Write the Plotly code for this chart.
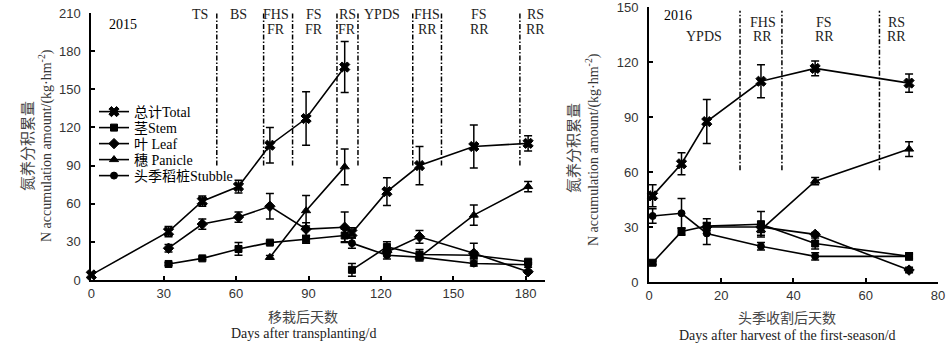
import plotly.graph_objects as go

# ---------------- data: 2015 (days after transplanting) ----------------
days15 = [0, 32, 46, 61, 74, 89, 105, None, 108, 122.5, 136, 158.5, 181]
total15 = [4, 38, 62, 73.5, 106, 127, 167.5, None, 37, 69.5, 90, 105, 107.5]
total15_err = [2, 4, 4, 5, 14, 21, 20, 0, 4, 11, 15, 17, 6]
stem15 = [None, 12.6, 17, 24.4, 29.4, 32, 35, None, 8, 26, 20, 19.5, 14.4]
stem15_err = [0, 1, 1, 5, 1, 3, 5, 0, 5, 4, 4, 3, 1.5]
leaf15 = [None, 25, 44, 49.5, 58, 40, 41.5, None, None, 22, 34, 21, 6.5]
leaf15_err = [0, 3, 4, 4, 10, 5, 12, 0, 0, 3, 5, 8, 1]
panicle15 = [None, None, None, None, 17.8, 54.5, 89, None, None, None, 18, 51, 73.5]
panicle15_err = [0, 0, 0, 0, 1.5, 12, 14, 0, 0, 0, 2, 8, 4]
stubble15 = [None, None, None, None, None, None, None, None, 29, 19.5, 18, 13, 12]
stubble15_err = [0, 0, 0, 0, 0, 0, 0, 0, 4, 3, 3, 2, 2]

# ---------------- data: 2016 (days after harvest of first season) -------
days16 = [1, 9, 16, 31, 46, 72]
total16 = [47, 64.5, 87.5, 109.5, 116.5, 108.5]
total16_err = [6, 6, 12, 9, 4, 5]
stem16 = [10.5, 27.5, 30.5, 31.5, 21, 14]
stem16_err = [1, 2, 4, 7, 3, 2]
leaf16 = [None, None, 30, 30, 26, 6.5]
leaf16_err = [0, 0, 2, 3, 1, 1.5]
panicle16 = [None, None, None, 28.5, 55, 72.5]
panicle16_err = [0, 0, 0, 3, 2, 4]
stubble16 = [36, 37.5, 26.5, 19.5, 14, 14]
stubble16_err = [4, 8, 6, 2, 2, 1]

# stage boundaries
bounds15 = [52, 71.4, 83.4, 101.8, 110.5, 133.2, 145.1, 177.6]
bounds16 = [25.2, 36.8, 63.8]
stage15_x = [45, 61, 76.7, 92.4, 106, 120.6, 139.3, 160.8, 184]
stage15_l1 = ["TS", "BS", "FHS", "FS", "RS", "YPDS", "FHS", "FS", "RS"]
stage15_l2 = ["", "", "FR", "FR", "FR", "", "RR", "RR", "RR"]
stage16_x = [15.2, 31.5, 48.5, 68.5]
stage16_l1 = ["", "FHS", "FS", "RS"]
stage16_l2 = ["YPDS", "RR", "RR", "RR"]

names = ["总计Total", "茎Stem", "叶 Leaf", "穗 Panicle", "头季稻桩Stubble"]
symbols = ["x", "square", "diamond", "triangle-up", "circle"]
sizes = [9, 7, 8, 8, 7]
legend_ids = ["legend", "legend2", "legend3", "legend4", "legend5"]
legend_rows_px = [112, 128, 144, 160, 176]

W, H = 947, 350
SERIF = "Liberation Serif, Noto Sans CJK SC, serif"
SANS = "Liberation Sans, Arial, sans-serif"
DASH = "5px,2px,1.5px,2px"

fig = go.Figure()

s15 = [(total15, total15_err), (stem15, stem15_err), (leaf15, leaf15_err),
       (panicle15, panicle15_err), (stubble15, stubble15_err)]
s16 = [(total16, total16_err), (stem16, stem16_err), (leaf16, leaf16_err),
       (panicle16, panicle16_err), (stubble16, stubble16_err)]

for i, (vals, err) in enumerate(s15):
    fig.add_trace(go.Scatter(
        x=days15, y=vals, mode="lines+markers", name=names[i], legend=legend_ids[i],
        line=dict(color="black", width=1.6),
        marker=dict(symbol=symbols[i], size=sizes[i], color="black",
                    line=dict(color="black", width=1)),
        error_y=dict(type="data", array=err, color="black", thickness=1.5, width=4),
        cliponaxis=False, connectgaps=False, xaxis="x", yaxis="y"))

for i, (vals, err) in enumerate(s16):
    fig.add_trace(go.Scatter(
        x=days16, y=vals, mode="lines+markers", name=names[i], showlegend=False,
        line=dict(color="black", width=1.6),
        marker=dict(symbol=symbols[i], size=sizes[i], color="black",
                    line=dict(color="black", width=1)),
        error_y=dict(type="data", array=err, color="black", thickness=1.5, width=4),
        cliponaxis=False, connectgaps=False, xaxis="x2", yaxis="y2"))

shapes = []
for b in bounds15:
    shapes.append(dict(type="line", xref="x", yref="y", x0=b, x1=b, y0=90, y1=210,
                       line=dict(color="black", width=1.5, dash=DASH)))
for b in bounds16:
    shapes.append(dict(type="line", xref="x2", yref="y2", x0=b, x1=b, y0=61, y1=148,
                       line=dict(color="black", width=1.5, dash=DASH)))

ann = []
def py(px):
    return (H - px) / H

def add_text(x, y, text, xref="paper", size=14, color="#222", family=SERIF, angle=0):
    ann.append(dict(x=x, y=y, xref=xref, yref="paper", text=text, showarrow=False,
                    xanchor="center", yanchor="middle", textangle=angle,
                    font=dict(family=family, size=size, color=color)))

for x, l1, l2 in zip(stage15_x, stage15_l1, stage15_l2):
    if l1:
        add_text(x, py(15), l1, xref="x")
    if l2:
        add_text(x, py(29.5), l2, xref="x")
for x, l1, l2 in zip(stage16_x, stage16_l1, stage16_l2):
    if l1:
        add_text(x, py(22.5), l1, xref="x2")
    if l2:
        add_text(x, py(36.5), l2, xref="x2")

add_text(123 / W, py(25), "2015", color="black")
add_text(678 / W, py(16), "2016", color="black")

ytitle_cn = "氮养分积累量"
ytitle_en = "N accumulation amount/(kg·hm<sup>-2</sup>)"
add_text(28 / W, py(146), ytitle_cn, color="#444", size=15, angle=-90)
add_text(45 / W, py(146), ytitle_en, color="#333", angle=-90)
add_text(574 / W, py(148), ytitle_cn, color="#444", size=15, angle=-90)
add_text(592 / W, py(150), ytitle_en, color="#333", angle=-90)

add_text(303 / W, py(317), "移栽后天数", color="#444")
add_text(303 / W, py(333.5), "Days after transplanting/d")
add_text(787 / W, py(318), "头季收割后天数", color="#444")
add_text(787 / W, py(335), "Days after harvest of the first-season/d")

axis_common = dict(showline=True, linecolor="black", linewidth=2, showgrid=False,
                   zeroline=False, ticks="inside", ticklen=4, tickwidth=1.5,
                   tickcolor="black", automargin=False, ticklabeloverflow="allow",
                   tickfont=dict(family=SANS, size=13, color="#333"))

legends = {}
for lid, row in zip(legend_ids, legend_rows_px):
    legends[lid] = dict(x=94 / W, y=py(row), xanchor="left", yanchor="middle",
                        bgcolor="rgba(0,0,0,0)", borderwidth=0,
                        font=dict(family=SERIF, size=14, color="black"),
                        itemwidth=30)

fig.update_layout(
    width=W, height=H, margin=dict(l=0, r=0, t=0, b=0),
    paper_bgcolor="white", plot_bgcolor="white",
    xaxis=dict(domain=[91.3 / W, 545 / W], range=[0, 188],
               tickvals=[0, 30, 60, 90, 120, 150, 180], anchor="y", **axis_common),
    yaxis=dict(domain=[py(280), py(13)], range=[0, 210.01],
               tickvals=[0, 30, 60, 90, 120, 150, 180, 210], anchor="x",
               ticklabelstandoff=6, **axis_common),
    xaxis2=dict(domain=[649 / W, 938 / W], range=[0, 80.01],
                tickvals=[0, 20, 40, 60, 80], anchor="y2", **axis_common),
    yaxis2=dict(domain=[py(282), py(7)], range=[0, 150.01],
                tickvals=[0, 30, 60, 90, 120, 150], anchor="x2",
                ticklabelstandoff=6, **axis_common),
    shapes=shapes, annotations=ann,
    showlegend=True,
    **legends,
)

fig.write_html("out.html")
